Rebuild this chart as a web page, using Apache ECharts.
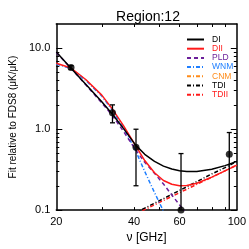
<!DOCTYPE html>
<html>
<head>
<meta charset="utf-8">
<script src="https://cdn.jsdelivr.net/npm/echarts@6/dist/echarts.min.js"></script>
<style>html,body{margin:0;padding:0;background:#fff}#c{width:249px;height:249px}</style>
</head>
<body>
<div id="c"></div>
<script>
// ---- data ----
const nu      = [20, 22.8, 26, 30, 33, 36.5, 40.5, 44, 48, 52, 56, 60, 64, 70, 80, 90, 100];
const DI      = [9.0, 5.69, 3.59, 2.18, 1.53, 1.01, 0.64, 0.49, 0.40, 0.35, 0.322, 0.307, 0.300, 0.301, 0.32, 0.355, 0.40];
const DII     = [6.55, 5.72, 4.12, 2.64, 1.77, 1.09, 0.63, 0.41, 0.29, 0.232, 0.209, 0.20, 0.201, 0.215, 0.256, 0.305, 0.36];
const PLD     = [8.9, 5.65, 3.55, 2.12, 1.47, 0.93, 0.56, 0.39, 0.285, 0.21, 0.154, 0.116, 0.089, 0.06, null, null, null];
const WNM     = [6.4, 5.62, 4.02, 2.57, 1.71, 1.03, 0.55, 0.30, 0.165, 0.097, 0.055, null, null, null, null, null, null];
const CNM     = [];
const nuDust  = [40, 42, 50, 60, 70, 80, 90, 100];
const TDI     = [0.091, 0.098, 0.13, 0.175, 0.225, 0.28, 0.335, 0.40];
const TDII    = [0.088, 0.094, 0.124, 0.164, 0.208, 0.255, 0.306, 0.36];
const obsNu   = [22.8, 33.0, 40.7, 60.8, 93.5];
const obsVal  = [5.8, 1.6, 0.6, 0.1, 0.49];
const obsLo   = [5.5, 1.2, 0.2, 0.01, 0.01];
const obsHi   = [6.1, 2.0, 1.0, 0.5, 0.91];
const xTickLabels = [20, 40, 60, 100];
const xMinorTicks = [30, 40, 50, 60, 70, 80, 90];
const yTickValues = [0.1, 1, 10];
const yTickLabels = ['0.1', '1.0', '10.0'];
const yMinorTicks = [0.2,0.3,0.4,0.5,0.6,0.7,0.8,0.9,2,3,4,5,6,7,8,9];
const xRange = [20, 100];
const yRange = [0.1, 20];

const L = Math.log10;
function pairs(xs, ys){ const out=[]; for(let i=0;i<xs.length;i++){ if(ys[i]!=null) out.push([L(xs[i]), L(ys[i])]); } return out; }

const FONT = 'Liberation Sans';
const frame = {show:true, onZero:false, lineStyle:{color:'#000', width:1.5}};
function xAx(pos, labels){
  return {type:'value', position:pos, min:L(xRange[0]), max:L(xRange[1]),
    axisLine:frame, splitLine:{show:false},
    axisTick:{show:true, inside:true, length:3, customValues:xMinorTicks.map(L), lineStyle:{color:'#000',width:1}},
    axisLabel: labels ? {show:true, customValues:xTickLabels.map(L), color:'#000', fontSize:11, fontFamily:FONT, margin:6,
       formatter:v=>String(Math.round(Math.pow(10,v)))} : {show:false},
    name: labels ? 'ν [GHz]' : '', nameLocation:'middle', nameGap:20,
    nameTextStyle:{color:'#000', fontSize:12, fontFamily:FONT}};
}
function yAx(pos, major, labels){
  const ax = {type:'value', position:pos, min:L(yRange[0]), max:L(yRange[1]),
    axisLine: major ? frame : {show:false, onZero:false}, splitLine:{show:false},
    axisTick:{show:true, inside:true, length: major?6:3, customValues:(major?yTickValues:yMinorTicks).map(L), lineStyle:{color:'#000',width:1}},
    axisLabel:{show:false}};
  if(labels){
    ax.axisLabel = {show:true, customValues:yTickValues.map(L), color:'#000', fontSize:11, fontFamily:FONT, margin:6,
      formatter:v=>{ let b=0; yTickValues.forEach((t,i)=>{ if(Math.abs(L(t)-v)<Math.abs(L(yTickValues[b])-v)) b=i; }); return yTickLabels[b]; }};
    ax.name = 'Fit relative to FDS8 (μK/μK)';
    ax.nameLocation = 'middle'; ax.nameRotate = 90; ax.nameGap = 33;
    ax.nameTextStyle = {color:'#000', fontSize:10, fontFamily:FONT};
  }
  return ax;
}
function line(name, xs, ys, color, type, w){
  return {name, type:'line', data:pairs(xs, ys), symbol:'none', showSymbol:false, smooth:false,
    clip:true, lineStyle:{color, width:w||1.5, type, join:'round'}, itemStyle:{color}, z:2};
}
const dashDot = [4,2,1,2];
const colors = {DI:'#000000', DII:'#ff1a1a', PLD:'#6b1f9a', WNM:'#1f7fff', CNM:'#ff8c1a', TDI:'#000000', TDII:'#ff1a1a'};

const chart = echarts.init(document.getElementById('c'), null, {renderer:'canvas'});
chart.setOption({
  animation:false,
  backgroundColor:'#fff',
  textStyle:{fontFamily:FONT},
  title:{text:'Region:12', left:143, top:5, textAlign:'center', textStyle:{fontSize:14, fontWeight:'normal', color:'#000', fontFamily:FONT}},
  grid:{left:50, right:12, top:24, bottom:38, containLabel:false},
  xAxis:[xAx('bottom', true), xAx('top', false)],
  yAxis:[yAx('left', true, true), yAx('left', false, false), yAx('right', true, false), yAx('right', false, false)],
  legend:{orient:'vertical', left:186, top:35, padding:0, itemWidth:17, itemHeight:9, itemGap:0.2,
    itemStyle:{color:'rgba(0,0,0,0)', borderWidth:0, opacity:0},
    textStyle:{fontSize:8.5, lineHeight:9, fontFamily:FONT, padding:[0,0,0,3]},
    data:['DI','DII','PLD','WNM','CNM','TDI','TDII'].map(n=>({name:n, textStyle:{color:colors[n]}}))},
  series:[
    line('TDI', nuDust, TDI, colors.TDI, dashDot),
    line('TDII', nuDust, TDII, colors.TDII, dashDot),
    line('CNM', [], CNM, colors.CNM, dashDot),
    line('WNM', nu, WNM, colors.WNM, dashDot),
    line('PLD', nu, PLD, colors.PLD, [4,3]),
    line('DII', nu, DII, colors.DII, 'solid'),
    line('DI', nu, DI, colors.DI, 'solid'),
    {type:'custom', clip:true, z:3, data: obsNu.map((f,i)=>[L(f), L(obsLo[i]), L(obsHi[i])]),
     renderItem:(params, api)=>{
       const x=api.value(0), lo=api.value(1), hi=api.value(2);
       const a=api.coord([x,lo]), b=api.coord([x,hi]); const c=2.5;
       const st={stroke:'#000', lineWidth:1.3};
       return {type:'group', children:[
         {type:'line', shape:{x1:a[0],y1:a[1],x2:b[0],y2:b[1]}, style:st},
         {type:'line', shape:{x1:b[0]-c,y1:b[1],x2:b[0]+c,y2:b[1]}, style:st},
         {type:'line', shape:{x1:a[0]-c,y1:a[1],x2:a[0]+c,y2:a[1]}, style:st}]};
     }},
    {type:'scatter', z:4, symbol:'circle', symbolSize:7, itemStyle:{color:'#000'}, data:pairs(obsNu, obsVal)}
  ]
});
</script>
</body>
</html>
